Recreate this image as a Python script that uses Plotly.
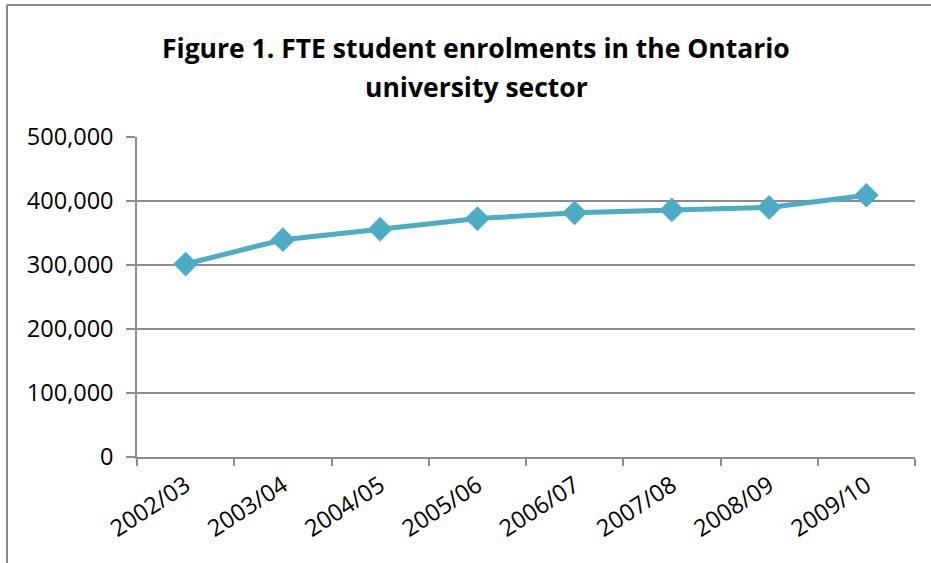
import plotly.graph_objects as go

years = ["2002/03", "2003/04", "2004/05", "2005/06", "2006/07", "2007/08", "2008/09", "2009/10"]
enrolments = [301500, 339500, 356000, 372500, 381500, 386000, 390000, 409000]
y_ticks = [0, 100000, 200000, 300000, 400000, 500000]
y_labels = ["0", "100,000", "200,000", "300,000", "400,000", "500,000"]

W, H = 931, 563
ML, MR, MT, MB = 137, 16, 137, 106
FONT = "Open Sans, Liberation Sans, Arial, sans-serif"
GRID = "#8c8c8c"
LINE = "#4BACC6"

fig = go.Figure()
fig.add_trace(go.Scatter(
    x=years, y=enrolments, mode="lines+markers",
    line=dict(color=LINE, width=5),
    marker=dict(symbol="diamond", size=19, color=LINE),
    showlegend=False, hoverinfo="x+y",
))

pw = W - ML - MR
ph = H - MT - MB
fig.update_layout(
    width=W, height=H,
    margin=dict(l=ML, r=MR, t=MT, b=MB, pad=0),
    paper_bgcolor="white", plot_bgcolor="white",
    font=dict(family=FONT, color="black", size=23),
    xaxis=dict(
        type="category", tickson="boundaries", ticks="outside", ticklen=7,
        tickcolor=GRID, tickwidth=1.5, showgrid=False,
        showline=True, linecolor=GRID, linewidth=1.5,
        tickangle=-33, tickfont=dict(size=23.5, family=FONT),
        ticklabelstandoff=4,
        range=[-0.5, len(years) - 0.5],
    ),
    yaxis=dict(
        range=[0, 500000], tickvals=y_ticks, ticktext=y_labels,
        ticks="outside", ticklen=9, tickcolor=GRID, tickwidth=1.5,
        showgrid=True, gridcolor=GRID, gridwidth=1.5,
        showline=True, linecolor=GRID, linewidth=1.5,
        zeroline=False, tickfont=dict(size=23.5, family=FONT),
        ticklabelstandoff=8,
    ),
    annotations=[
        dict(text="<b>Figure 1. FTE student enrolments in the Ontario</b>",
             xref="paper", yref="paper", x=(476 - ML) / pw, y=(H - MB - 48) / ph,
             xanchor="center", yanchor="middle", showarrow=False,
             font=dict(size=26.5, family=FONT)),
        dict(text="<b>university sector</b>",
             xref="paper", yref="paper", x=(476 - ML) / pw, y=(H - MB - 87) / ph,
             xanchor="center", yanchor="middle", showarrow=False,
             font=dict(size=26.5, family=FONT)),
    ],
    shapes=[
        dict(type="line", xref="paper", yref="paper",
             x0=(7 - ML) / pw, x1=(7 - ML) / pw, y0=(H - MB - 5) / ph, y1=(H - MB - H - 5) / ph,
             line=dict(color="#888888", width=2)),
        dict(type="line", xref="paper", yref="paper",
             x0=(7 - ML) / pw, x1=(W + 5 - ML) / pw, y0=(H - MB - 5) / ph, y1=(H - MB - 5) / ph,
             line=dict(color="#888888", width=2)),
    ],
)

fig.write_html("out.html")
